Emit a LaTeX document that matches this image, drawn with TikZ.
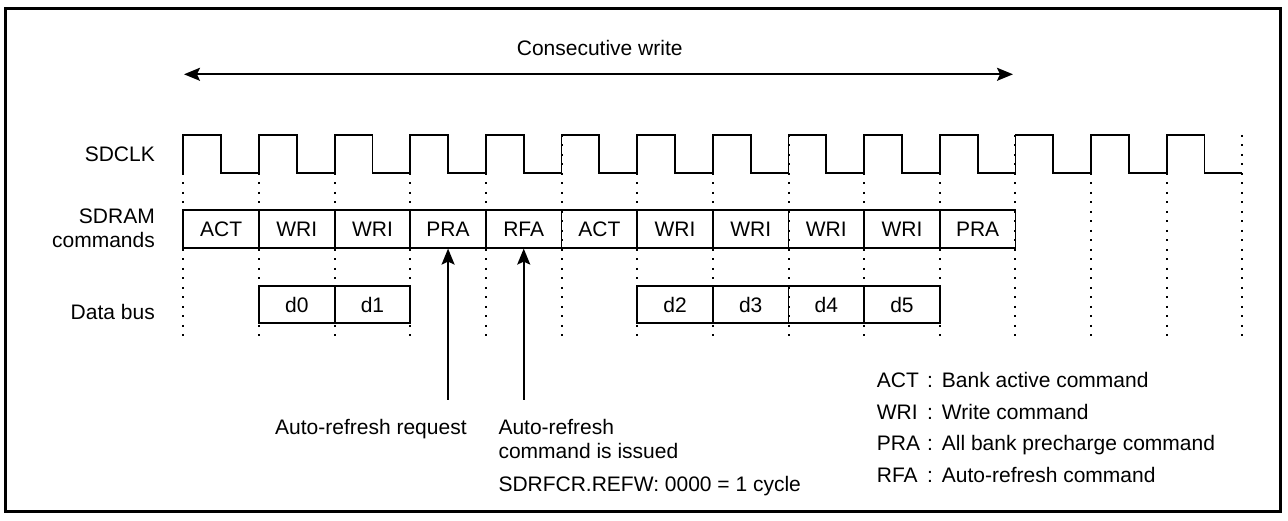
\documentclass[tikz,border=0pt]{standalone}
\usepackage{fontspec}
\setmainfont{Liberation Sans}
\usetikzlibrary{arrows.meta}
\begin{document}
\begin{tikzpicture}[x=1pt,y=-1pt,
  lbl/.style={inner sep=0pt, font=\fontsize{21}{24.5}\selectfont},
  cell/.style={draw, line width=1.8pt, minimum width=75.65pt, minimum height=37.7pt, inner sep=0pt, font=\fontsize{21}{24.5}\selectfont},
  gridline/.style={line width=2pt, dash pattern=on 2pt off 7.5pt},
  sig/.style={line width=1.8pt, line join=miter},
  arr/.style={line width=1.8pt, -{Stealth[length=16pt,width=13pt,inset=3pt]}},
  dbl/.style={line width=1.8pt, {Stealth[length=16pt,width=13pt,inset=3pt]}-{Stealth[length=16pt,width=13pt,inset=3pt]}},
]
\useasboundingbox (0,0) rectangle (1288,521);
% frame
\draw[line width=3pt] (5,9) rectangle (1280,511.7);

% grid lines
\foreach \i in {0,...,14}
  \draw[gridline] ({183.3+\i*75.65},135) -- ({183.3+\i*75.65},338);

% clock
\draw[sig] (183.3,172.7)
  \foreach \i in {0,...,13} {
    -- ({183.3+\i*75.65},135) -- ({183.3+\i*75.65+37.8},135)
    -- ({183.3+\i*75.65+37.8},172.7) -- ({183.3+(\i+1)*75.65},172.7)
  };

% commands
\foreach \t [count=\i from 0] in {ACT,WRI,WRI,PRA,RFA,ACT,WRI,WRI,WRI,WRI,PRA}
  \node[cell] (c\i) at ({183.3+(\i+0.5)*75.65},228.85) {\t};

% data bus
\foreach \t/\k in {d0/1,d1/2,d2/6,d3/7,d4/8,d5/9}
  \node[cell] (\t) at ({183.3+(\k+0.5)*75.65},304.5) {\t};

% signal labels
\node[lbl, anchor=base east] (lclk) at (155,161.5) {SDCLK};
\node[lbl, anchor=base east] (lcmd1) at (155,223.3) {SDRAM};
\node[lbl, anchor=base east] (lcmd2) at (155,247.7) {commands};
\node[lbl, anchor=base east] (ldata) at (155,319.3) {Data bus};

% consecutive write
\node[lbl, anchor=base] (cw) at (599.7,56) {Consecutive write};
\coordinate (cwL) at (184,74.3);
\coordinate (cwR) at (1013,74.3);
\draw[dbl] (cwL) -- (cwR);

% auto-refresh arrows
\path (c3.south) ++(0,151) coordinate (a1);
\path (c4.south) ++(0,151) coordinate (a2);
\draw[arr] (a1) -- (c3.south);
\draw[arr] (a2) -- (c4.south);

\node[lbl, anchor=base west] (req) at (275,434) {Auto-refresh request};
\node[lbl, anchor=base west] (iss1) at (498.3,434) {Auto-refresh};
\node[lbl, anchor=base west] (iss2) at (498.3,458.3) {command is issued};
\node[lbl, anchor=base west] (refw) at (498.3,491.7) {SDRFCR.REFW: 0000 = 1 cycle};

% legend
\foreach \a/\d/\y [count=\n] in {ACT/Bank active command/387.3, WRI/Write command/419.3, PRA/All bank precharge command/450.7, RFA/Auto-refresh command/482.3} {
  \node[lbl, anchor=base west] (lg\n) at (876.7,\y) {\a};
  \node[lbl, anchor=base] (lc\n) at (930,\y) {:};
  \node[lbl, anchor=base west] (ld\n) at (941.7,\y) {\d};
}
\end{tikzpicture}
\end{document}
